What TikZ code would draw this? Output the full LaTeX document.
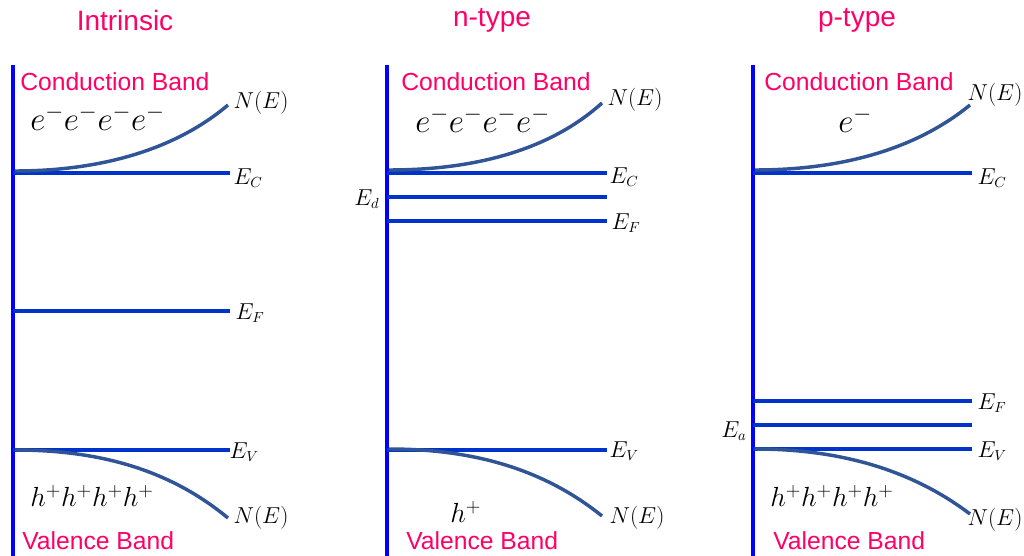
\documentclass[tikz,border=0pt]{standalone}
\usepackage{fontspec}
\setmainfont{Liberation Sans}
\definecolor{axisblue}{RGB}{0,0,255}
\definecolor{levelblue}{RGB}{0,51,204}
\definecolor{curveblue}{RGB}{47,85,151}
\definecolor{bandpink}{RGB}{255,0,102}
\tikzset{
  axisline/.style={draw=axisblue, line width=3pt},
  level/.style={draw=levelblue, line width=2.6pt},
  dos/.style={draw=curveblue, line width=2.6pt},
  title/.style={text=bandpink, font=\fontsize{21}{24}\selectfont},
  bandlbl/.style={text=bandpink, font=\fontsize{18.5}{21}\selectfont, anchor=west, inner sep=0pt},
  carrier/.style={font=\fontsize{23.5}{27}\selectfont, anchor=west, inner sep=0pt},
  hole/.style={font=\fontsize{21.5}{25}\selectfont, anchor=west, inner sep=0pt},
  lvl/.style={font=\fontsize{16}{19}\selectfont, anchor=west, inner sep=1pt},
}
\begin{document}
\begin{tikzpicture}[x=0.75pt, y=-0.75pt]
\useasboundingbox (0,0) rectangle (1024,556);
% ---------- Intrinsic ----------
\node[title] (t1) at (125,20) {Intrinsic};
\coordinate (a1t) at (13,65); \coordinate (a1b) at (13,556);
\draw[axisline] (a1t) -- (a1b);
\node[lvl] (ec1) at (232,178) {$E_C$};
\node[lvl] (ef1) at (234,313) {$E_F$};
\node[lvl] (ev1) at (228,452) {$E_V$};
\coordinate (ec1s) at (13,173); \coordinate (ec1e) at (230,173);
\coordinate (ef1s) at (13,311); \coordinate (ef1e) at (230,311);
\coordinate (ev1s) at (13,450); \coordinate (ev1e) at (230,450);
\draw[level] (ec1s) -- (ec1e);
\draw[level] (ef1s) -- (ef1e);
\draw[level] (ev1s) -- (ev1e);
\coordinate (u1s) at (15,171); \coordinate (u1e) at (228,105);
\coordinate (l1s) at (15,450); \coordinate (l1e) at (228,518);
\draw[dos] (u1s) .. controls (100,171) and (175,150) .. (u1e);
\draw[dos] (l1s) .. controls (100,450) and (170,470) .. (l1e);
\node[lvl] (n1u) at (232,103) {$N(E)$};
\node[lvl] (n1l) at (232,518) {$N(E)$};
\node[bandlbl] (cb1) at (20,82) {Conduction Band};
\node[bandlbl] (vb1) at (22,541) {Valence Band};
\node[carrier] (e1) at (30,118) {$e^-e^-e^-e^-$};
\node[hole] (h1) at (30,496) {$h^+h^+h^+h^+$};
% ---------- n-type ----------
\node[title] (t2) at (492,20) {n-type};
\coordinate (a2t) at (387,65); \coordinate (a2b) at (387,556);
\draw[axisline] (a2t) -- (a2b);
\coordinate (ec2s) at (387,173); \coordinate (ec2e) at (607,173);
\coordinate (ed2s) at (387,197); \coordinate (ed2e) at (607,197);
\coordinate (ef2s) at (387,221); \coordinate (ef2e) at (607,221);
\coordinate (ev2s) at (387,450); \coordinate (ev2e) at (607,450);
\draw[level] (ec2s) -- (ec2e);
\draw[level] (ed2s) -- (ed2e);
\draw[level] (ef2s) -- (ef2e);
\draw[level] (ev2s) -- (ev2e);
\node[lvl] (ec2) at (608,177) {$E_C$};
\node[lvl] (ef2) at (610,223) {$E_F$};
\node[lvl] (ev2) at (608,451) {$E_V$};
\node[lvl, anchor=east] (ed2) at (381,199) {$E_d$};
\coordinate (u2s) at (389,170); \coordinate (u2e) at (602,103);
\coordinate (l2s) at (389,449); \coordinate (l2e) at (602,516);
\draw[dos] (u2s) .. controls (475,170) and (550,150) .. (u2e);
\draw[dos] (l2s) .. controls (475,449) and (545,470) .. (l2e);
\node[lvl] (n2u) at (606,100) {$N(E)$};
\node[lvl] (n2l) at (608,518) {$N(E)$};
\node[bandlbl] (cb2) at (401,82) {Conduction Band};
\node[bandlbl] (vb2) at (406,541) {Valence Band};
\node[carrier] (e2) at (415,120) {$e^-e^-e^-e^-$};
\node[hole] (h2) at (450,512) {$h^+$};
% ---------- p-type ----------
\node[title] (t3) at (857,20) {p-type};
\coordinate (a3t) at (753,65); \coordinate (a3b) at (753,556);
\draw[axisline] (a3t) -- (a3b);
\coordinate (ec3s) at (753,173); \coordinate (ec3e) at (972,173);
\coordinate (ef3s) at (753,401); \coordinate (ef3e) at (972,401);
\coordinate (ea3s) at (753,425); \coordinate (ea3e) at (972,425);
\coordinate (ev3s) at (753,449); \coordinate (ev3e) at (972,449);
\draw[level] (ec3s) -- (ec3e);
\draw[level] (ef3s) -- (ef3e);
\draw[level] (ea3s) -- (ea3e);
\draw[level] (ev3s) -- (ev3e);
\node[lvl] (ec3) at (976,178) {$E_C$};
\node[lvl] (ef3) at (976,403) {$E_F$};
\node[lvl] (ev3) at (976,451) {$E_V$};
\node[lvl, anchor=east] (ea3) at (748,431) {$E_a$};
\coordinate (u3s) at (755,170); \coordinate (u3e) at (970,105);
\coordinate (l3s) at (755,449); \coordinate (l3e) at (970,514);
\draw[dos] (u3s) .. controls (840,170) and (915,150) .. (u3e);
\draw[dos] (l3s) .. controls (840,449) and (912,470) .. (l3e);
\node[lvl, anchor=east] (n3u) at (1024,95) {$N(E)$};
\node[lvl, anchor=east] (n3l) at (1024,520) {$N(E)$};
\node[bandlbl] (cb3) at (764,82) {Conduction Band};
\node[bandlbl] (vb3) at (773,541) {Valence Band};
\node[carrier] (e3) at (838,120) {$e^-$};
\node[hole] (h3) at (770,496) {$h^+h^+h^+h^+$};
\end{tikzpicture}
\end{document}
